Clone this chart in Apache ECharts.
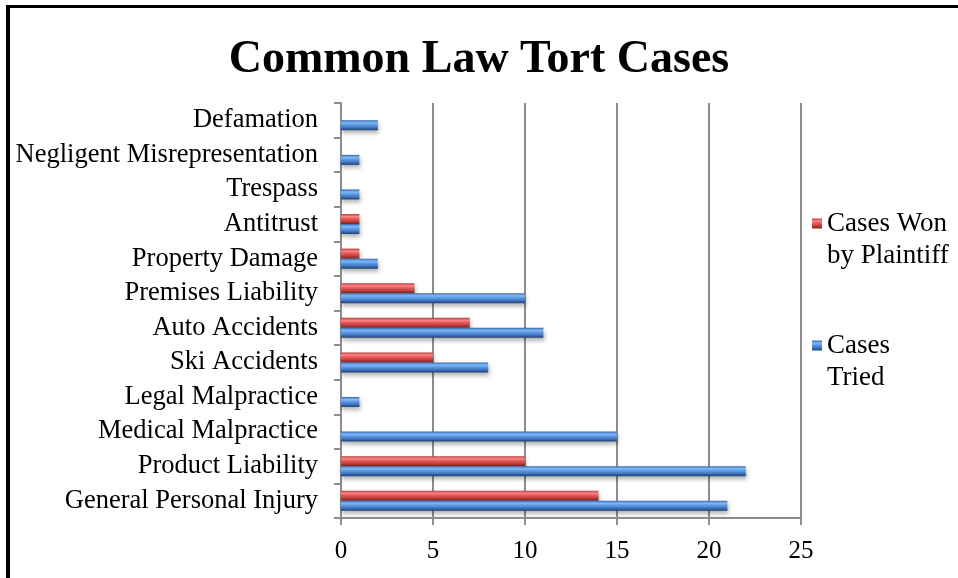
<!DOCTYPE html>
<html>
<head>
<meta charset="utf-8">
<script src="https://cdn.jsdelivr.net/npm/echarts@6/dist/echarts.min.js"></script>
<style>
  html, body { margin: 0; padding: 0; background: #fff; }
  #chart { width: 958px; height: 578px; }
</style>
</head>
<body>
<div id="chart"></div>
<script>
// categories listed bottom to top, as the axis draws them
const categories = [
  'General Personal Injury',
  'Product Liability',
  'Medical Malpractice',
  'Legal Malpractice',
  'Ski Accidents',
  'Auto Accidents',
  'Premises Liability',
  'Property Damage',
  'Antitrust',
  'Trespass',
  'Negligent Misrepresentation',
  'Defamation'
]
const casesTried = [21, 22, 15, 1, 8, 11, 10, 2, 1, 1, 1, 2]
const casesWon = [14, 10, 0, 0, 5, 7, 4, 1, 1, 0, 0, 0]
const xTicks = [0, 5, 10, 15, 20, 25]

// legend text wraps on two lines, icon sits next to the first one
const legendText = {
  'Cases Won by Plaintiff': '{s| }\n{a|Cases Won}\n{a|by Plaintiff}',
  'Cases Tried': '{s| }\n{a|Cases}\n{a|Tried}'
}

const serif = '"Liberation Serif", "Times New Roman", serif'

function barGradient(stops) {
  return new echarts.graphic.LinearGradient(0, 0, 0, 1,
    stops.map((c, i) => ({ offset: i / (stops.length - 1), color: c })))
}
const blue = barGradient(['#3466ad', '#80b8f7', '#5a95e0', '#3d72bd', '#223f6e'])
const red = barGradient(['#b13d3b', '#ff8585', '#e05656', '#bd3f3d', '#6e1f1d'])

const barShadow = {
  shadowColor: 'rgba(0,0,0,0.3)',
  shadowBlur: 4,
  shadowOffsetY: 3,
  shadowOffsetX: 1
}

const chart = echarts.init(document.getElementById('chart'))
chart.setOption({
  animation: false,
  backgroundColor: '#fff',
  textStyle: { fontFamily: serif },
  title: {
    text: 'Common Law Tort Cases',
    left: 'center',
    top: 32,
    textStyle: { fontFamily: serif, fontSize: 46, fontWeight: 'bold', color: '#000' }
  },
  legend: {
    orient: 'vertical',
    left: 812,
    top: 178,
    padding: 0,
    itemGap: 31,
    itemWidth: 10,
    itemHeight: 10,
    icon: 'rect',
    data: ['Cases Won by Plaintiff', 'Cases Tried'],
    formatter: name => legendText[name],
    textStyle: {
      fontFamily: serif,
      fontSize: 27,
      color: '#000',
      rich: {
        s: { fontSize: 27, lineHeight: 32 },
        a: { fontFamily: serif, fontSize: 27, color: '#000', lineHeight: 32 }
      }
    }
  },
  grid: { left: 341, right: 157, top: 103, bottom: 60 },
  xAxis: {
    type: 'value',
    min: xTicks[0],
    max: xTicks[xTicks.length - 1],
    interval: 5,
    axisLine: { show: true, lineStyle: { color: '#8c8c8c', width: 2 } },
    axisTick: { show: true, length: 7, lineStyle: { color: '#8c8c8c', width: 2 } },
    splitLine: { show: true, lineStyle: { color: '#8c8c8c', width: 2 } },
    axisLabel: { fontFamily: serif, fontSize: 25, color: '#000', margin: 21 }
  },
  yAxis: {
    type: 'category',
    data: categories,
    axisLine: { show: true, lineStyle: { color: '#8c8c8c', width: 2 } },
    axisTick: { show: true, length: 7, lineStyle: { color: '#8c8c8c', width: 2 } },
    axisLabel: { interval: 0, fontFamily: serif, fontSize: 26.5, color: '#000', margin: 23 }
  },
  series: [
    {
      name: 'Cases Won by Plaintiff',
      type: 'bar',
      data: casesWon,
      barWidth: 10,
      barGap: '0%',
      itemStyle: Object.assign({ color: red }, barShadow)
    },
    {
      name: 'Cases Tried',
      type: 'bar',
      data: casesTried,
      barWidth: 10,
      barGap: '0%',
      itemStyle: Object.assign({ color: blue }, barShadow)
    }
  ],
  graphic: [
    // frame lines of the original picture
    { type: 'rect', left: 6, top: 5, shape: { width: 4, height: 573 }, style: { fill: '#000' } },
    { type: 'rect', left: 6, top: 5, shape: { width: 952, height: 3 }, style: { fill: '#000' } }
  ]
})
</script>
</body>
</html>
